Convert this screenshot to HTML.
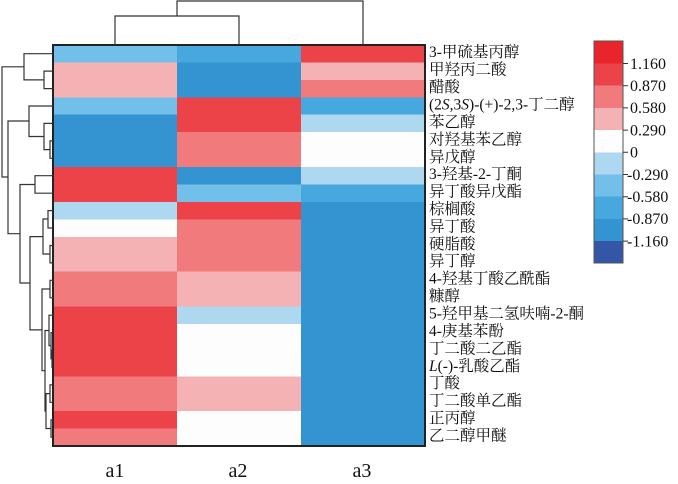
<!DOCTYPE html>
<html><head><meta charset="utf-8"><style>
html,body{margin:0;padding:0;background:#fff;}
svg{display:block;}
text{font-family:"Liberation Serif","Noto Serif CJK SC",serif;fill:#111;}
</style></head><body>
<svg width="678" height="484" viewBox="0 0 678 484" xmlns="http://www.w3.org/2000/svg">
<g id="cells" shape-rendering="crispEdges"></g>
<script>
const C={R1:"#e8252b",R2:"#ec4349",R3:"#f07a7c",R4:"#f5b2b4",W:"#fdfdfd",B1:"#add8f0",B2:"#72c0ea",B3:"#47a8e0",B4:"#3493d1",B5:"#3356a6"};
const rows=[["B2","B3","R2"],["R4","B4","R4"],["R4","B4","R3"],["B2","R2","B3"],["B4","R2","B1"],["B4","R3","W"],["B4","R3","W"],["R2","B4","B1"],["R2","B2","B3"],["B1","R2","B4"],["W","R3","B4"],["R4","R3","B4"],["R4","R3","B4"],["R3","R4","B4"],["R3","R4","B4"],["R2","B1","B4"],["R2","W","B4"],["R2","W","B4"],["R2","W","B4"],["R3","R4","B4"],["R3","R4","B4"],["R2","W","B4"],["R3","W","B4"]];
const g=document.getElementById("cells");const ns="http://www.w3.org/2000/svg";
const x0=53,w=124,y0=45,h=401/23;
rows.forEach((r,i)=>r.forEach((c,j)=>{const e=document.createElementNS(ns,"rect");e.setAttribute("x",x0+j*w);e.setAttribute("y",y0+i*h);e.setAttribute("width",w+0.5);e.setAttribute("height",h+0.5);e.setAttribute("fill",C[c]);g.appendChild(e);}));
</script>
<rect x="53" y="45" width="372" height="401" fill="none" stroke="#222" stroke-width="2"/>
<g fill="none" stroke="#333" stroke-width="1.2">
<path d="M115 45 V16 H239 V45 M177 16 V1 H363 V45"/>
<path d="M53 71.1 H44 V88.6 H53 M53 53.7 H24 V79.9 H44 M53 140.9 H50 V158.3 H53 M53 123.4 H44 V149.6 H50 M53 106 H29 V136.5 H44 M53 175.7 H35 V193.2 H53 M53 210.6 H48 V228 H53 M53 245.5 H50 V262.9 H53 M48 219 H43 V254 H50 M53 280.3 H50 V297.8 H53 M53 350 H52 V367.5 H53 M53 332.6 H51 V358.8 H52 M53 315.2 H49 V345.7 H51 M53 384.9 H50 V402.3 H53 M53 419.8 H51 V437.2 H53 M50 393.6 H46 V428.5 H51 M49 330.5 H45 V411 H46 M50 289 H42 V370.7 H45 M43 236.6 H30 V329.9 H42 M35 184.5 H20 V283 H30 M29 121 H8 V233.7 H20 M24 66.8 H2 V177 H8"/>
</g>
<g font-size="15.5">
<text x="429" y="57">3-甲硫基丙醇</text>
<text x="429" y="74.5">甲羟丙二酸</text>
<text x="429" y="92">醋酸</text>
<text x="429" y="109.5">(2<tspan font-style="italic">S</tspan>,3<tspan font-style="italic">S</tspan>)-(+)-2,3-丁二醇</text>
<text x="429" y="127">苯乙醇</text>
<text x="429" y="144.5">对羟基苯乙醇</text>
<text x="429" y="162">异戊醇</text>
<text x="429" y="179">3-羟基-2-丁酮</text>
<text x="429" y="196.5">异丁酸异戊酯</text>
<text x="429" y="214">棕榈酸</text>
<text x="429" y="231.5">异丁酸</text>
<text x="429" y="249">硬脂酸</text>
<text x="429" y="266">异丁醇</text>
<text x="429" y="283.5">4-羟基丁酸乙酰酯</text>
<text x="429" y="301">糠醇</text>
<text x="429" y="318.5">5-羟甲基二氢呋喃-2-酮</text>
<text x="429" y="336">4-庚基苯酚</text>
<text x="429" y="353.5">丁二酸二乙酯</text>
<text x="429" y="371"><tspan font-style="italic">L</tspan>(-)-乳酸乙酯</text>
<text x="429" y="388">丁酸</text>
<text x="429" y="405.5">丁二酸单乙酯</text>
<text x="429" y="423">正丙醇</text>
<text x="429" y="440.5">乙二醇甲醚</text>
</g>
<g font-size="20" text-anchor="middle">
<text x="115" y="477">a1</text><text x="238" y="477">a2</text><text x="362" y="477">a3</text>
</g>
<g shape-rendering="crispEdges">
<rect x="594" y="41" width="29" height="23" fill="#e8252b"/>
<rect x="594" y="63.5" width="29" height="23" fill="#ec4349"/>
<rect x="594" y="85.7" width="29" height="23" fill="#f07a7c"/>
<rect x="594" y="107.9" width="29" height="23" fill="#f5b2b4"/>
<rect x="594" y="130.1" width="29" height="23" fill="#fdfdfd"/>
<rect x="594" y="152.3" width="29" height="23" fill="#add8f0"/>
<rect x="594" y="174.5" width="29" height="23" fill="#72c0ea"/>
<rect x="594" y="196.7" width="29" height="23" fill="#47a8e0"/>
<rect x="594" y="218.9" width="29" height="23" fill="#3493d1"/>
<rect x="594" y="241.1" width="29" height="22" fill="#3356a6"/>
</g>
<rect x="594" y="41" width="29" height="222" fill="none" stroke="#555" stroke-width="1"/>
<g stroke="#333" stroke-width="1">
<path d="M623 63.5h5M623 85.7h5M623 107.9h5M623 130.1h5M623 152.3h5M623 174.5h5M623 196.7h5M623 218.9h5M623 241.1h5"/>
</g>
<g font-size="16">
<text x="630" y="69">1.160</text>
<text x="630" y="91">0.870</text>
<text x="630" y="113">0.580</text>
<text x="630" y="135.5">0.290</text>
<text x="630" y="157.5">0</text>
<text x="627" y="180">-0.290</text>
<text x="627" y="202">-0.580</text>
<text x="627" y="224">-0.870</text>
<text x="627" y="246.5">-1.160</text>
</g>
</svg>
</body></html>
